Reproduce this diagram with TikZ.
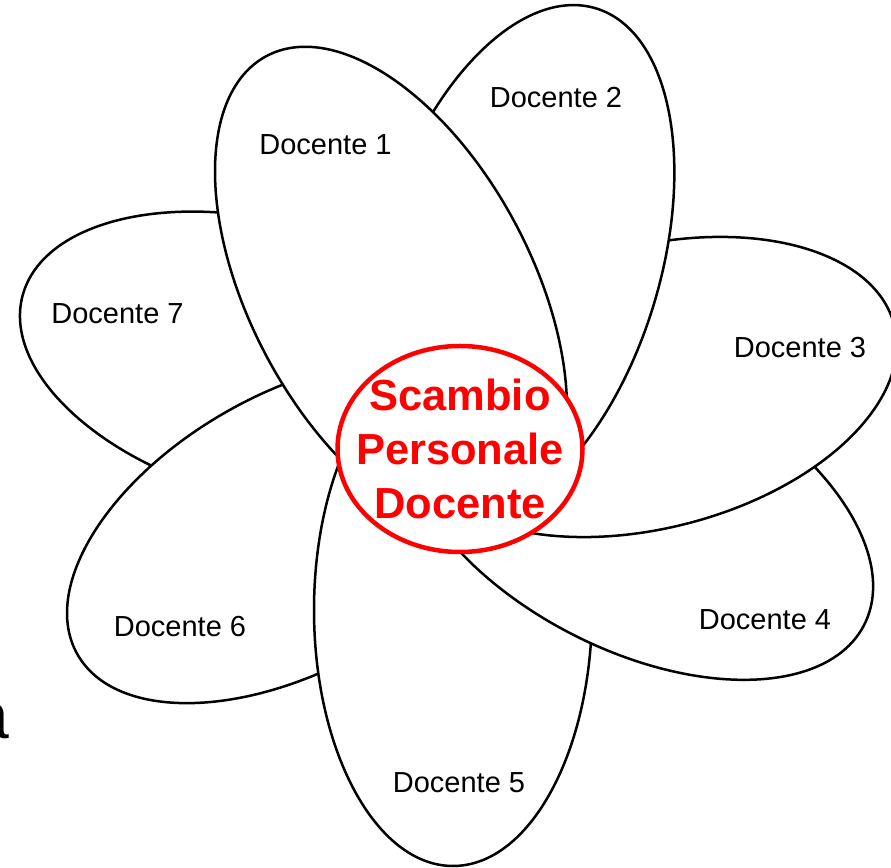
\documentclass[tikz,border=0pt]{standalone}
\usepackage{fontspec}
\setmainfont{Liberation Sans}
\usepackage{tikz}
\usetikzlibrary{shapes.geometric}
\usetikzlibrary{positioning}
\tikzstyle{petal} = [ellipse, draw=black, fill=white, line width=2.5pt, inner sep=0pt]
\tikzstyle{docente} = [anchor=base, inner sep=0pt, font=\fontsize{29}{34}\selectfont]
\tikzstyle{hub} = [ellipse, draw=red, fill=white, line width=4.5pt, minimum width=245pt, minimum height=206pt, inner sep=0pt]
\tikzstyle{hubtext} = [text=red, align=center, inner sep=0pt, font=\fontsize{43.5}{54}\selectfont\bfseries]

\begin{document}
\begin{tikzpicture}[x=1pt, y=1pt]
    \useasboundingbox (0,0) rectangle (891,867);
    \clip (0,0) rectangle (891,867);
    % petals, from the back to the front
    \node (p7) [petal, minimum width=506pt, minimum height=278pt, rotate=-15] at (267,506) {};
    \node (p6) [petal, minimum width=502pt, minimum height=276pt, rotate=29.4] at (296,336) {};
    \node (p5) [petal, minimum width=512pt, minimum height=278pt, rotate=90] at (453,257) {};
    \node (p4) [petal, minimum width=510pt, minimum height=282pt, rotate=-27] at (637,358) {};
    \node (p3) [petal, minimum width=500pt, minimum height=282pt, rotate=14.4] at (652,480) {};
    \node (p2) [petal, minimum width=532pt, minimum height=282pt, rotate=73.2] at (519,604) {};
    \node (p1) [petal, minimum width=530pt, minimum height=282pt, rotate=-62] at (391,577) {};
    % centre
    \node (hub) [hub] at (460,418) {};
    \node (title) [hubtext] at (460,418) {Scambio\\Personale\\Docente};
    % names
    \node (d1) [docente] at (325.5,712) {Docente 1};
    \node (d2) [docente] at (556,759) {Docente 2};
    \node (d3) [docente] at (800,509) {Docente 3};
    \node (d4) [docente] at (765,237) {Docente 4};
    \node (d5) [docente] at (459,74) {Docente 5};
    \node (d6) [docente] at (180,230) {Docente 6};
    \node (d7) [docente] at (117.5,543) {Docente 7};
    % cut-off letter at the left border
    \node (cut) [anchor=base east, inner sep=0pt, font=\fontsize{66}{70}\selectfont] at (9,128) {a};
\end{tikzpicture}
\end{document}
